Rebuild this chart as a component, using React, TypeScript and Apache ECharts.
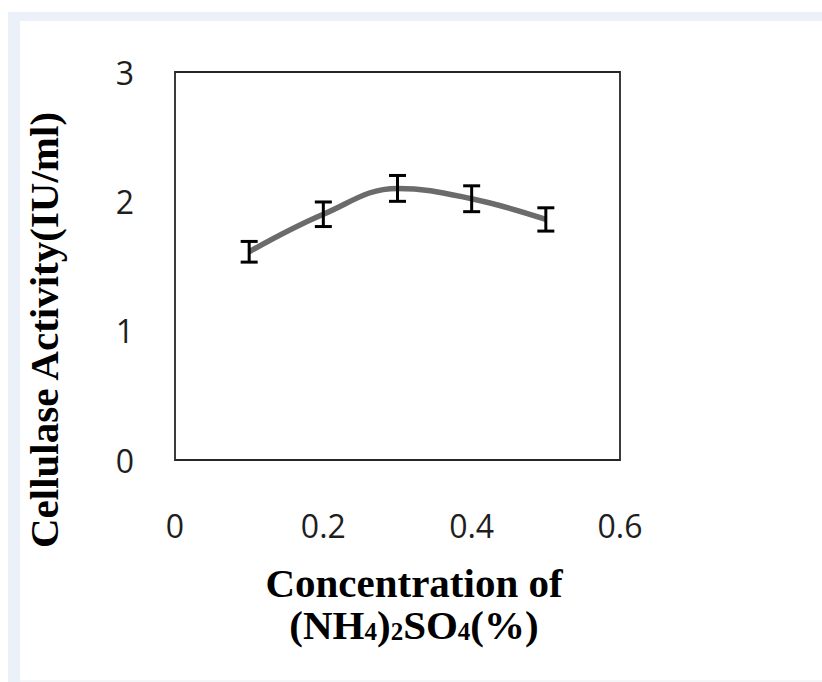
import React, { useEffect, useRef } from 'react';
import * as echarts from 'echarts';

// Data
const concentrations = [0.1, 0.2, 0.3, 0.4, 0.5];
const activity = [1.61, 1.9, 2.1, 2.02, 1.86];
const errors = [0.08, 0.095, 0.1, 0.1, 0.09];

const xMin = 0;
const xMax = 0.6;
const xStep = 0.2;
const yMin = 0;
const yMax = 3;
const yStep = 1;

const yTitle = 'Cellulase Activity(IU/ml)';
const xTitleLine1 = 'Concentration of';
const xTitleLine2 = '{n|(NH}{s|4}{n|)}{s|2}{n|SO}{s|4}{n|(%)}';

export default function App() {
  const ref = useRef<HTMLDivElement>(null);

  useEffect(() => {
    if (!ref.current) return;
    const chart = echarts.init(ref.current, undefined, { renderer: 'svg' });
    const serif = '"Liberation Serif", "Times New Roman", serif';
    const sans = '"Open Sans", "Noto Sans", sans-serif';

    const errData = concentrations.map((c, i) => [c, activity[i] - errors[i], activity[i] + errors[i]]);

    chart.setOption({
      animation: false,
      backgroundColor: '#ffffff',
      grid: {
        left: 175,
        right: 202,
        top: 72,
        bottom: 222,
        show: true,
        borderColor: '#262626',
        borderWidth: 1.8,
        backgroundColor: 'transparent',
      },
      xAxis: {
        type: 'value',
        min: xMin,
        max: xMax,
        interval: xStep,
        axisLine: { show: false },
        axisTick: { show: false },
        splitLine: { show: false },
        axisLabel: {
          fontSize: 32,
          fontFamily: sans,
          color: '#1e1e1e',
          margin: 49,
          showMinLabel: true,
          showMaxLabel: true,
        },
      },
      yAxis: {
        type: 'value',
        min: yMin,
        max: yMax,
        interval: yStep,
        axisLine: { show: false },
        axisTick: { show: false },
        splitLine: { show: false },
        axisLabel: {
          fontSize: 32,
          fontFamily: sans,
          color: '#1e1e1e',
          margin: 41,
        },
      },
      series: [
        {
          type: 'line',
          data: concentrations.map((c, i) => [c, activity[i]]),
          smooth: 0.4,
          showSymbol: false,
          symbol: 'none',
          lineStyle: { color: '#6b6b6b', width: 5.5 },
          z: 2,
        },
        {
          type: 'custom',
          data: errData,
          encode: { x: 0, y: [1, 2] },
          z: 3,
          renderItem: (params: any, api: any) => {
            const x = api.value(0);
            const lo = api.coord([x, api.value(1)]);
            const hi = api.coord([x, api.value(2)]);
            const w = 8.5;
            const style = { stroke: '#000', lineWidth: 3 };
            return {
              type: 'group',
              children: [
                { type: 'line', shape: { x1: lo[0], y1: lo[1], x2: hi[0], y2: hi[1] }, style },
                { type: 'line', shape: { x1: lo[0] - w, y1: lo[1], x2: lo[0] + w, y2: lo[1] }, style },
                { type: 'line', shape: { x1: hi[0] - w, y1: hi[1], x2: hi[0] + w, y2: hi[1] }, style },
              ],
            };
          },
        },
      ],
      graphic: [
        { type: 'rect', shape: { x: 8, y: 12, width: 814, height: 9 }, style: { fill: '#ecf1f9' }, silent: true },
        { type: 'rect', shape: { x: 8, y: 12, width: 12, height: 670 }, style: { fill: '#ecf1f9' }, silent: true },
        { type: 'rect', shape: { x: 20, y: 680, width: 802, height: 2 }, style: { fill: '#f3f5f8' }, silent: true },
        {
          type: 'text',
          x: 44,
          y: 330,
          rotation: Math.PI / 2,
          style: {
            text: yTitle,
            font: `bold 41px ${serif}`,
            fill: '#000',
            align: 'center',
            verticalAlign: 'middle',
          },
        },
        {
          type: 'text',
          x: 414,
          y: 583,
          style: {
            text: xTitleLine1,
            font: `bold 41px ${serif}`,
            lineHeight: 34,
            fill: '#000',
            align: 'center',
            verticalAlign: 'middle',
          },
        },
        {
          type: 'text',
          x: 414,
          y: 621,
          style: {
            text: xTitleLine2,
            fill: '#000',
            align: 'center',
            verticalAlign: 'middle',
            rich: {
              n: {
                fontSize: 41,
                fontWeight: 'bold',
                fontFamily: serif,
                lineHeight: 34,
                verticalAlign: 'top',
                fill: '#000',
                color: '#000',
              },
              s: {
                fontSize: 25,
                fontWeight: 'bold',
                fontFamily: serif,
                lineHeight: 20,
                verticalAlign: 'top',
                padding: [15, 0, 0, 0],
                fill: '#000',
                color: '#000',
              },
            },
          },
        },
      ],
    });

    return () => chart.dispose();
  }, []);

  return (
    <div
      ref={ref}
      style={{ position: 'fixed', left: 0, top: 0, width: 822, height: 682, background: '#fff' }}
    />
  );
}
